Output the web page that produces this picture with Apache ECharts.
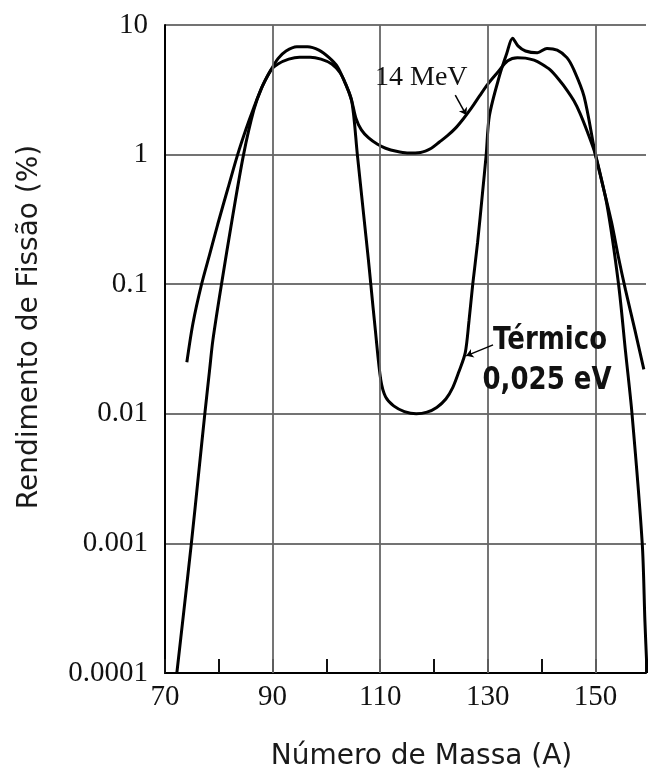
<!DOCTYPE html>
<html><head><meta charset="utf-8">
<script src="https://cdn.jsdelivr.net/npm/echarts@6/dist/echarts.min.js"></script>
<style>html,body{margin:0;padding:0;background:#fff}#c{width:649px;height:778px}</style>
</head><body><div id="c"></div>
<script>
// ---- data ----
const xLabelTicks = [70, 90, 110, 130, 150];
const yTickLabels = ['0.0001', '0.001', '0.01', '0.1', '1', '10'];
const verticalGridMass = [90, 110, 130, 150];

const thermalMass = [72.2, 73.5, 74.9, 76.2, 77.4, 78.3, 78.9, 80.5, 82.5, 84.6, 86.5, 88.0, 89.7, 91.0, 92.5, 94.5, 96.5, 98.6, 100.5, 102.0, 103.3, 104.7, 105.75, 106.9, 107.8, 108.25, 109.1, 110.1, 111.0, 112.5, 114.5, 116.7, 118.7, 120.5, 122.2, 123.5, 124.6, 125.8, 126.5, 127.2, 128.1, 129.0, 129.7, 130.3, 132.2, 133.5, 134.6, 135.6, 137.0, 139.2, 141.0, 142.9, 144.7, 146.0, 147.9, 150.0, 152.1, 154.3, 155.6, 156.8, 158.7, 159.2, 159.6];
const thermalYield = [0.0001, 0.0003, 0.001, 0.0033, 0.01, 0.022, 0.037, 0.1, 0.32, 1.0, 2.2, 3.3, 4.5, 5.5, 6.3, 6.8, 6.8, 6.4, 5.6, 4.8, 3.7, 2.6, 1.0, 0.35, 0.155, 0.1, 0.044, 0.0183, 0.0135, 0.0115, 0.0104, 0.0100, 0.0103, 0.0112, 0.013, 0.016, 0.021, 0.0295, 0.052, 0.1, 0.21, 0.5, 1.0, 2.0, 4.1, 6.0, 7.9, 6.9, 6.3, 6.1, 6.6, 6.4, 5.6, 4.5, 2.8, 1.0, 0.42, 0.1, 0.03, 0.01, 0.001, 0.00025, 0.0001];

const mev14Mass = [74.06, 75.2, 76.8, 78.3, 79.8, 81.7, 83.5, 85.0, 86.5, 88.0, 89.7, 91.0, 93.0, 95.0, 97.0, 99.0, 101.0, 102.5, 103.6, 104.7, 105.5, 106.5, 107.8, 109.5, 111.0, 113.0, 115.0, 117.5, 119.5, 121.0, 122.5, 124.0, 125.5, 127.0, 128.5, 130.0, 131.8, 133.7, 135.5, 137.0, 138.6, 140.0, 141.6, 143.2, 144.7, 146.0, 147.1, 148.5, 150.0, 151.5, 153.0, 154.3, 155.6, 157.3, 159.0];
const mev14Yield = [0.025, 0.05, 0.1, 0.17, 0.29, 0.55, 1.0, 1.55, 2.3, 3.3, 4.5, 5.0, 5.45, 5.65, 5.65, 5.45, 5.0, 4.3, 3.5, 2.6, 1.9, 1.55, 1.35, 1.2, 1.12, 1.06, 1.03, 1.04, 1.12, 1.25, 1.4, 1.6, 1.9, 2.3, 2.85, 3.5, 4.3, 5.3, 5.6, 5.55, 5.35, 5.0, 4.5, 3.8, 3.15, 2.6, 2.1, 1.5, 1.0, 0.55, 0.3, 0.16, 0.09, 0.045, 0.022];

// annotation arrows (data coordinates: mass number, yield %)
const mevArrow = [[123.95, 2.88], [126.0, 2.02]];
const thermalArrow = [[130.97, 0.034], [125.98, 0.028]];

const thermalData = thermalMass.map((m, i) => [m, thermalYield[i]]);
const mev14Data = mev14Mass.map((m, i) => [m, mev14Yield[i]]);

const serif = '"Liberation Serif", "DejaVu Serif", serif';
const sans = '"DejaVu Sans", sans-serif';

const chart = echarts.init(document.getElementById('c'), null, {renderer: 'canvas'});
chart.setOption({
  backgroundColor: '#ffffff',
  animation: false,
  grid: {left: 165, right: 0, top: 25, bottom: 105, containLabel: false},
  xAxis: {
    type: 'value', min: 70, max: 159.4, interval: 10,
    name: 'Número de Massa (A)', nameLocation: 'middle', nameGap: 70,
    nameTextStyle: {fontFamily: sans, fontSize: 28, color: '#1a1a1a', padding: [0, 0, 0, 32]},
    axisLine: {show: true, onZero: false, lineStyle: {color: '#000', width: 2}},
    axisTick: {show: true, inside: true, length: 14, lineStyle: {color: '#111', width: 2}},
    axisLabel: {
      fontFamily: serif, fontSize: 29, color: '#111', margin: 10,
      formatter: v => (xLabelTicks.indexOf(v) >= 0 ? String(v) : '')
    },
    splitLine: {show: false}
  },
  yAxis: {
    type: 'log', logBase: 10, min: 0.0001, max: 10,
    name: 'Rendimento de Fissão (%)', nameLocation: 'middle', nameGap: 121,
    nameTextStyle: {fontFamily: sans, fontSize: 28, color: '#1a1a1a', padding: [0, 0, 0, 44]},
    axisLine: {show: true, lineStyle: {color: '#000', width: 2}},
    axisTick: {show: false},
    axisLabel: {
      fontFamily: serif, fontSize: 29, color: '#111', margin: 17,
      formatter: v => yTickLabels[Math.round(Math.log10(v)) + 4] || ''
    },
    splitLine: {show: true, lineStyle: {color: '#444', width: 1.5}}
  },
  series: [
    {
      type: 'line', data: [], z: 1, silent: true,
      markLine: {
        silent: true, symbol: 'none', animation: false,
        label: {show: false},
        lineStyle: {color: '#666', width: 1.8, type: 'solid'},
        data: verticalGridMass.map(m => ({xAxis: m}))
      }
    },
    {
      name: 'Térmico 0,025 eV', type: 'line', data: thermalData, z: 3,
      showSymbol: false, smooth: 0.3, clip: true,
      lineStyle: {color: '#000', width: 3}
    },
    {
      name: '14 MeV', type: 'line', data: mev14Data, z: 3,
      showSymbol: false, smooth: 0.3, clip: true,
      lineStyle: {color: '#000', width: 3},
      markLine: {
        silent: true, symbol: ['none', 'arrow'], symbolSize: 7, animation: false,
        label: {show: false},
        lineStyle: {color: '#000', width: 1.5, type: 'solid'},
        data: [
          [{coord: mevArrow[0]}, {coord: mevArrow[1]}],
          [{coord: thermalArrow[0]}, {coord: thermalArrow[1]}]
        ]
      }
    }
  ],
  graphic: [
    {type: 'text', x: 375, y: 78, z: 10, style: {text: '14 MeV', fontFamily: serif, fontSize: 28, fill: '#111', textAlign: 'left', textVerticalAlign: 'middle'}},
    {type: 'text', x: 550, y: 341, z: 10, scaleY: 1.2, style: {text: 'Térmico', fontFamily: sans, fontWeight: 'bold', fontSize: 26, fill: '#111', textAlign: 'center', textVerticalAlign: 'middle'}},
    {type: 'text', x: 547, y: 381, z: 10, scaleY: 1.2, style: {text: '0,025 eV', fontFamily: sans, fontWeight: 'bold', fontSize: 26, fill: '#111', textAlign: 'center', textVerticalAlign: 'middle'}}
  ]
});
</script>
</body></html>
